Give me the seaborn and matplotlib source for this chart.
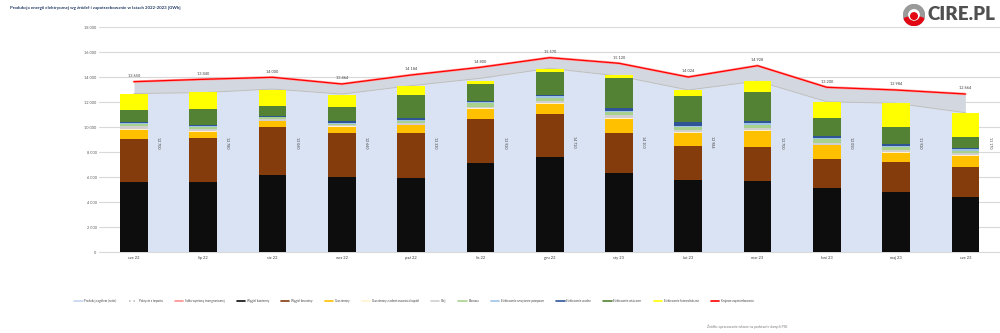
import numpy as np
import matplotlib
matplotlib.use("Agg")
import matplotlib.pyplot as plt
from matplotlib.lines import Line2D
from matplotlib.patches import Circle, Wedge
import seaborn as sns

months = ["cze 22", "lip 22", "sie 22", "wrz 22", "paź 22", "lis 22", "gru 22",
          "sty 23", "lut 23", "mar 23", "kwi 23", "maj 23", "cze 23"]

wegiel_kamienny = [5650, 5650, 6184, 6000, 5968, 7168, 7600, 6368, 5784, 5704, 5120, 4848, 4400]
wegiel_brunatny = [3414, 3470, 3864, 3568, 3552, 3496, 3440, 3200, 2720, 2744, 2344, 2400, 2448]
gaz_ziemny = [720, 530, 440, 480, 664, 800, 848, 1120, 1064, 1256, 1096, 720, 856]
gaz_kopalniany = [50, 50, 40, 56, 40, 80, 80, 80, 80, 80, 40, 56, 80]
olej = [280, 200, 176, 120, 136, 104, 176, 216, 176, 184, 168, 160, 136]
biomasa = [160, 160, 96, 80, 144, 272, 224, 216, 200, 216, 272, 216, 208]
szczytowo_pompowe = [80, 40, 24, 80, 80, 80, 120, 104, 104, 136, 80, 104, 112]
wodne = [100, 80, 104, 96, 136, 104, 96, 216, 272, 184, 208, 136, 80]
wiatrowe = [935, 1280, 816, 1144, 1864, 1336, 1864, 2448, 2144, 2320, 1440, 1408, 928]
fotowoltaiczne = [1280, 1330, 1240, 936, 720, 288, 216, 216, 440, 904, 1232, 1920, 1872]

produkcja_ogolem = [12700, 12780, 13060, 12660, 13330, 13920, 14720, 14100, 12984, 13700, 12050, 11920, 11170]
zapotrzebowanie = [13650, 13840, 14000, 13464, 14184, 14800, 15570, 15120, 14024, 14928, 13200, 12984, 12664]

y_ticks = [0, 2000, 4000, 6000, 8000, 10000, 12000, 14000, 16000, 18000]

layers = [
    ("Węgiel kamienny", wegiel_kamienny, "#0D0D0D"),
    ("Węgiel brunatny", wegiel_brunatny, "#843C0C"),
    ("Gaz ziemny", gaz_ziemny, "#FFC000"),
    ("Gaz ziemny z odmetanowania kopalń", gaz_kopalniany, "#FFF2CC"),
    ("Olej", olej, "#D0CECE"),
    ("Biomasa", biomasa, "#A9D18E"),
    ("Elektrownie szczytowo-pompowe", szczytowo_pompowe, "#9DC3E6"),
    ("Elektrownie wodne", wodne, "#2F5597"),
    ("Elektrownie wiatrowe", wiatrowe, "#548235"),
    ("Elektrownie fotowoltaiczne", fotowoltaiczne, "#FFFF00"),
]

sns.set_style("white")
plt.rcParams["font.family"] = ["Lato", "DejaVu Sans"]

fig = plt.figure(figsize=(10, 3.33), dpi=100)
ax = fig.add_axes([0.0993, 0.2423, 0.9007, 0.6757])

x = np.arange(len(months))

# areas
blue_area = "#DAE3F3"
gray_area = "#D3D8E0"
ax.fill_between(x, 0, produkcja_ogolem, color=blue_area, lw=0, zorder=1)
ax.fill_between(x, produkcja_ogolem, zapotrzebowanie, color=gray_area, lw=0, zorder=1)
ax.plot(x, produkcja_ogolem, color="#BFBFBF", lw=0.7, zorder=1.5)

# stacked bars (overdraw cumulative sums from top down)
cum = np.cumsum(np.array([l[1] for l in layers]), axis=0)
for i in range(len(layers) - 1, -1, -1):
    sns.barplot(x=months, y=cum[i], color=layers[i][2], saturation=1, width=0.4,
                ax=ax, zorder=3, linewidth=0)

# demand lines
sns.lineplot(x=x, y=zapotrzebowanie, color="#FF9C9C", lw=1.8, ax=ax, zorder=4)
sns.lineplot(x=x, y=zapotrzebowanie, color="#FF0000", lw=0.9, ax=ax, zorder=5)

def fmt(v):
    return f"{int(round(v)):,}".replace(",", " ")

for i, v in enumerate(zapotrzebowanie):
    ax.text(i, v + 300, fmt(v), ha="center", va="bottom", fontsize=2.8,
            color="#404040", zorder=6)
for i, v in enumerate(produkcja_ogolem):
    ax.text(i + 0.35, 8800, fmt(v), ha="center", va="center", rotation=-90,
            fontsize=2.6, color="#404040", zorder=6)

ax.set_xlim(-0.5, len(months) - 0.5)
ax.set_ylim(0, 18000)
ax.set_yticks(y_ticks)
ax.set_yticklabels([fmt(t) for t in y_ticks], fontsize=2.8, color="#595959")
ax.set_xticks(x)
ax.set_xticklabels(months, fontsize=2.9, color="#404040")
ax.set_xticks(np.arange(-0.5, len(months), 1), minor=True)
ax.tick_params(axis="x", which="major", length=0, pad=3)
ax.tick_params(axis="x", which="minor", length=2.5, color="#D9D9D9", width=0.6)
ax.tick_params(axis="y", length=0, pad=2)
ax.set_xlabel("")
ax.set_ylabel("")
ax.grid(axis="y", color="#D9D9D9", lw=0.8, zorder=0)
ax.set_axisbelow(True)
for s in ["left", "right", "top"]:
    ax.spines[s].set_visible(False)
ax.spines["bottom"].set_color("#D9D9D9")
ax.spines["bottom"].set_linewidth(0.8)

# legend
handles = [
    Line2D([], [], color="#C5D4EE", lw=1.2),
    Line2D([], [], color="#BFBFBF", lw=1.2, ls=":"),
    Line2D([], [], color="#FF8F8F", lw=1.2),
] + [Line2D([], [], color=c, lw=1.2) for _, _, c in layers] + [
    Line2D([], [], color="#FF0000", lw=1.2),
]
labels = ["Produkcja ogółem (netto)", "Pokrycie z importu", "Saldo wymiany transgranicznej"] + \
         [l[0] for l in layers] + ["Krajowe zapotrzebowanie"]
fig.legend(handles, labels, loc="center", bbox_to_anchor=(0.414, 0.096), ncol=14,
           fontsize=2.1, frameon=False, handlelength=2.8, columnspacing=4.2,
           handletextpad=0.6, labelcolor="#404040")

# title
fig.text(0.010, 0.982, "Produkcja energii elektrycznej wg źródeł i zapotrzebowanie w latach 2022-2023 [GWh]",
         ha="left", va="top", fontsize=3.2, fontweight="bold", color="#1F3864")

# footnote
fig.text(0.707, 0.018, "Źródło: opracowanie własne na podstawie danych PSE",
         ha="left", va="center", fontsize=2.4, color="#7F7F7F")

# logo
fig.text(0.927, 0.955, "CIRE.PL", ha="left", va="center", fontsize=13.5,
         fontweight="heavy", color="#505050")
logo_ax = fig.add_axes([0.903, 0.922, 0.022, 0.066])
logo_ax.set_xlim(-1, 1); logo_ax.set_ylim(-1, 1); logo_ax.axis("off")
logo_ax.add_patch(Wedge((0, 0), 0.95, 0, 360, width=0.35, color="#9A9A9A"))
logo_ax.add_patch(Wedge((0, 0), 0.95, 200, 340, width=0.35, color="#E30613"))
logo_ax.add_patch(Circle((0, -0.1), 0.3, color="#E30613"))

fig.savefig("out.png", dpi=100)
